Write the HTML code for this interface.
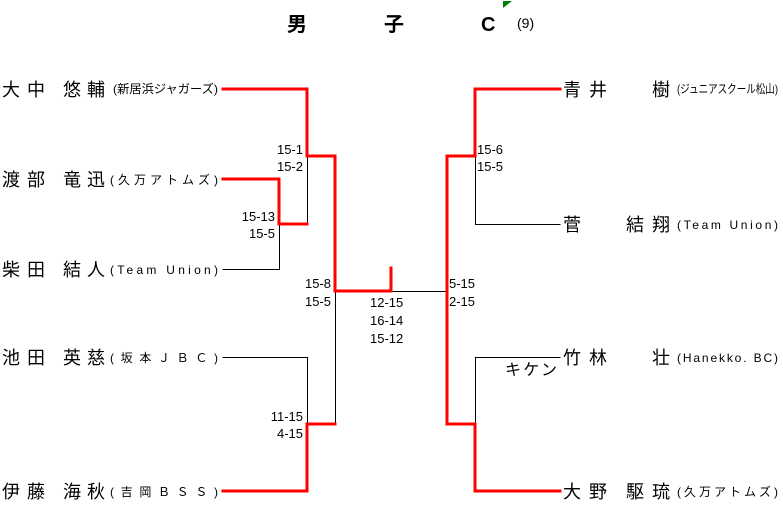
<!DOCTYPE html>
<html><head><meta charset="utf-8"><style>
html,body{margin:0;padding:0;background:#fff;}
svg{display:block;}
text{font-family:"Liberation Sans","Noto Sans CJK JP",sans-serif;fill:#000;}
.n{font-size:18px;}
.c{font-size:12px;}
.s{font-size:13px;}
</style></head><body>
<svg width="783" height="514" viewBox="0 0 783 514" xmlns="http://www.w3.org/2000/svg">
<text x="287" y="31" style="font-size:20px;font-weight:bold">男</text>
<text x="384" y="31" style="font-size:20px;font-weight:bold">子</text>
<text x="481" y="31" style="font-size:20px;font-weight:bold">C</text>
<text x="517" y="28" style="font-size:14px">(9)</text>
<polygon points="503,1 512,1 503,8" fill="#008000"/>

<g fill="none" stroke-linecap="square">
<g stroke="#000" stroke-width="1">
<path d="M307.5 156V224M279.5 224V269M223 269.5H279.5M223 357.5H307.5V424M335.5 291V424M335 291.5H447.5V156M475.5 156V224.5H560M475.5 424V357.5H560"/>
</g>
<g stroke="#f00" stroke-width="3">
<path d="M223 89H307V156H335V291H391V268"/>
<path d="M223 179H279V224H307"/>
<path d="M223 491H307V424H335"/>
<path d="M560 89H475V156H447V424H475V491H560"/>
</g>
</g>

<!-- left names -->
<g class="n">
<text x="2" y="96" textLength="43" lengthAdjust="spacing">大中</text><text x="63" y="96" textLength="42" lengthAdjust="spacing">悠輔</text>
<text x="2" y="186" textLength="43" lengthAdjust="spacing">渡部</text><text x="63" y="186" textLength="42" lengthAdjust="spacing">竜迅</text>
<text x="2" y="276" textLength="43" lengthAdjust="spacing">柴田</text><text x="63" y="276" textLength="42" lengthAdjust="spacing">結人</text>
<text x="2" y="364" textLength="43" lengthAdjust="spacing">池田</text><text x="63" y="364" textLength="42" lengthAdjust="spacing">英慈</text>
<text x="2" y="498" textLength="43" lengthAdjust="spacing">伊藤</text><text x="63" y="498" textLength="42" lengthAdjust="spacing">海秋</text>
</g>
<g class="c">
<text x="113" y="93" textLength="105" lengthAdjust="spacingAndGlyphs">(新居浜ジャガーズ)</text>
<text x="110" y="184" textLength="108" lengthAdjust="spacing">(久万アトムズ)</text>
<text x="110" y="274" textLength="108" lengthAdjust="spacing">(Team Union)</text>
<text x="110" y="362" textLength="108" lengthAdjust="spacing">(坂本ＪＢＣ)</text>
<text x="110" y="496" textLength="108" lengthAdjust="spacing">(吉岡ＢＳＳ)</text>
</g>

<!-- right names -->
<g class="n">
<text x="563" y="96" textLength="44" lengthAdjust="spacing">青井</text><text x="652" y="96">樹</text>
<text x="563" y="231">菅</text><text x="626" y="231" textLength="44" lengthAdjust="spacing">結翔</text>
<text x="563" y="364" textLength="44" lengthAdjust="spacing">竹林</text><text x="652" y="364">壮</text>
<text x="563" y="498" textLength="44" lengthAdjust="spacing">大野</text><text x="626" y="498" textLength="44" lengthAdjust="spacing">駆琉</text>
</g>
<g class="c">
<text x="677" y="93" textLength="101" lengthAdjust="spacingAndGlyphs">(ジュニアスクール松山)</text>
<text x="677" y="229" textLength="101" lengthAdjust="spacing">(Team Union)</text>
<text x="677" y="362" textLength="101" lengthAdjust="spacing">(Hanekko. BC)</text>
<text x="677" y="496" textLength="101" lengthAdjust="spacing">(久万アトムズ)</text>
</g>
<text x="505" y="375" style="font-size:16px" textLength="52" lengthAdjust="spacing">キケン</text>

<!-- scores -->
<g class="s" text-anchor="end">
<text x="303" y="154">15-1</text><text x="303" y="171">15-2</text>
<text x="275" y="221">15-13</text><text x="275" y="238">15-5</text>
<text x="331" y="288">15-8</text><text x="331" y="306">15-5</text>
<text x="303" y="421">11-15</text><text x="303" y="438">4-15</text>
</g>
<g class="s">
<text x="370" y="307">12-15</text><text x="370" y="325">16-14</text><text x="370" y="343">15-12</text>
<text x="449" y="288">5-15</text><text x="449" y="306">2-15</text>
<text x="477" y="154">15-6</text><text x="477" y="171">15-5</text>
</g>
</svg>
</body></html>
